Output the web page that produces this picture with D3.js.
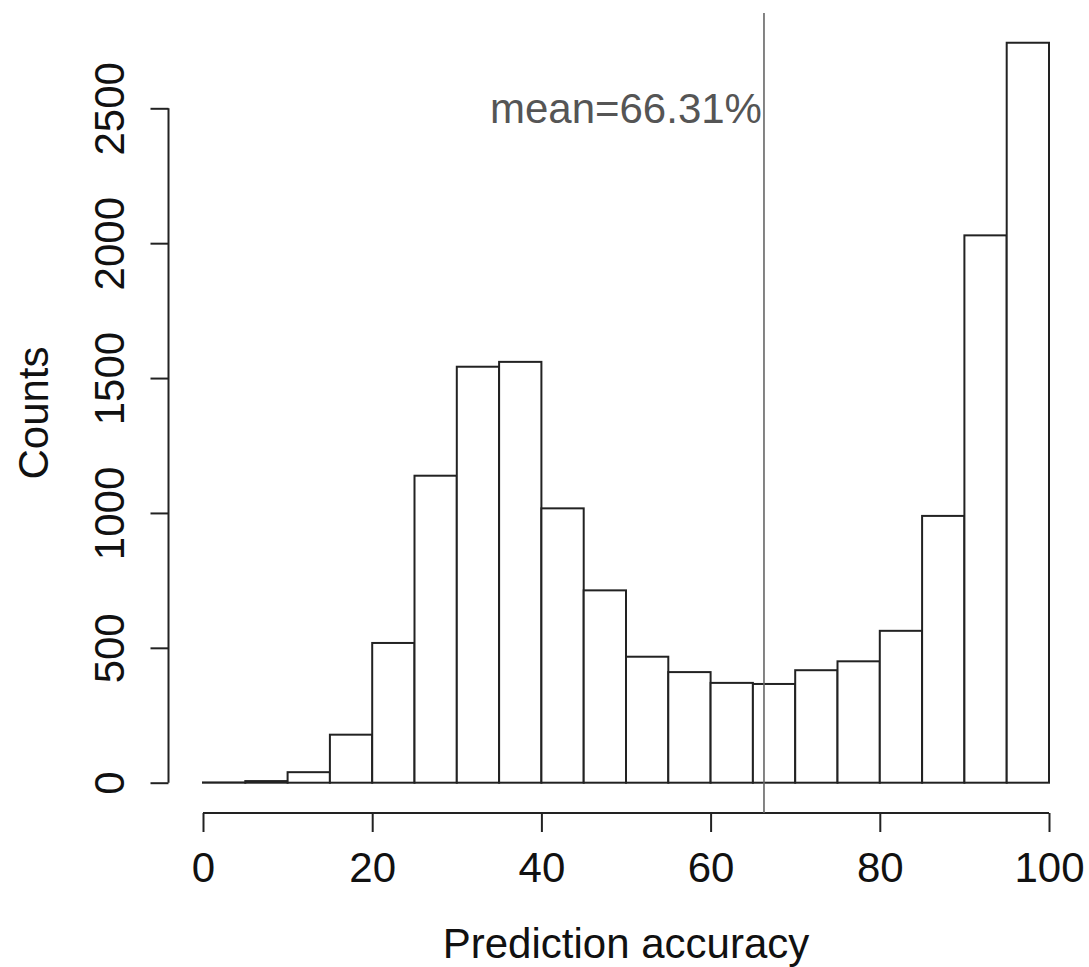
<!DOCTYPE html>
<html>
<head>
<meta charset="utf-8">
<script src="https://cdn.jsdelivr.net/npm/d3@7"></script>
<style>
  body { margin: 0; background: #fff; }
  text { font-family: 'Liberation Sans', Arial, Helvetica, sans-serif; }
</style>
</head>
<body>
<div id="chart"></div>
<script>
// histogram bins (width 5) and their counts
const binStarts = [0, 5, 10, 15, 20, 25, 30, 35, 40, 45, 50, 55, 60, 65, 70, 75, 80, 85, 90, 95];
const counts = [1, 6, 39, 178, 518, 1138, 1542, 1560, 1017, 713, 467, 410, 370, 366, 417, 450, 563, 989, 2029, 2743];
const binWidth = 5;
const xTicks = [0, 20, 40, 60, 80, 100];
const yTicks = [0, 500, 1000, 1500, 2000, 2500];
const meanValue = 66.31;

const width = 1089, height = 967;

const svg = d3.select('#chart').append('svg')
  .attr('width', width)
  .attr('height', height);

const x = d3.scaleLinear().domain([0, 100]).range([203, 1049]);
const y = d3.scaleLinear().domain([0, 2500]).range([782.7, 108.3]);

const bins = binStarts.map((b, i) => ({ x0: b, x1: b + binWidth, count: counts[i] }));

//Bars
svg.append('g')
  .selectAll('rect')
  .data(bins)
  .enter()
  .append('rect')
  .attr('x', d => x(d.x0))
  .attr('y', d => y(d.count))
  .attr('width', d => x(d.x1) - x(d.x0))
  .attr('height', d => y(0) - y(d.count))
  .attr('fill', '#fff')
  .attr('stroke', '#222')
  .attr('stroke-width', 2);

//Y axis, R style: line only spans the ticks
const yAxis = svg.append('g')
  .attr('transform', 'translate(168.5,0)')
  .call(d3.axisLeft(y).tickValues(yTicks).tickSize(18).tickSizeOuter(0).tickFormat(d3.format('d')));

yAxis.select('.domain').remove();
yAxis.append('line')
  .attr('y1', y(yTicks[0]))
  .attr('y2', y(yTicks[yTicks.length - 1]))
  .attr('stroke', '#222')
  .attr('stroke-width', 2);

yAxis.selectAll('.tick line').attr('stroke', '#222').attr('stroke-width', 2);
yAxis.selectAll('.tick text')
  .attr('x', null)
  .attr('dy', null)
  .attr('transform', 'translate(-44.5,0) rotate(-90)')
  .attr('text-anchor', 'middle')
  .attr('fill', '#111')
  .style('font-size', '42px')
  .style('font-family', "'Liberation Sans', Arial, sans-serif");

//X axis
const xAxis = svg.append('g')
  .attr('transform', 'translate(0,813)')
  .call(d3.axisBottom(x).tickValues(xTicks).tickSize(19).tickSizeOuter(0));

xAxis.select('.domain').remove();
xAxis.append('line')
  .attr('x1', x(xTicks[0]))
  .attr('x2', x(xTicks[xTicks.length - 1]))
  .attr('stroke', '#222')
  .attr('stroke-width', 2);

xAxis.selectAll('.tick line').attr('stroke', '#222').attr('stroke-width', 2);
xAxis.selectAll('.tick text')
  .attr('y', 69)
  .attr('dy', null)
  .attr('fill', '#111')
  .style('font-size', '42px')
  .style('font-family', "'Liberation Sans', Arial, sans-serif");

//Axis titles
svg.append('text')
  .attr('transform', 'translate(48,413) rotate(-90)')
  .attr('text-anchor', 'middle')
  .attr('fill', '#111')
  .style('font-size', '42px')
  .text('Counts');

svg.append('text')
  .attr('x', 626)
  .attr('y', 958)
  .attr('text-anchor', 'middle')
  .attr('fill', '#111')
  .style('font-size', '42px')
  .text('Prediction accuracy');

//Mean line and label
svg.append('line')
  .attr('x1', x(meanValue))
  .attr('x2', x(meanValue))
  .attr('y1', 13)
  .attr('y2', 813)
  .attr('stroke', '#666')
  .attr('stroke-width', 1.6);

svg.append('text')
  .attr('x', x(meanValue) - 2)
  .attr('y', 123)
  .attr('text-anchor', 'end')
  .attr('fill', '#555')
  .style('font-size', '42px')
  .text('mean=' + meanValue + '%');
</script>
</body>
</html>
